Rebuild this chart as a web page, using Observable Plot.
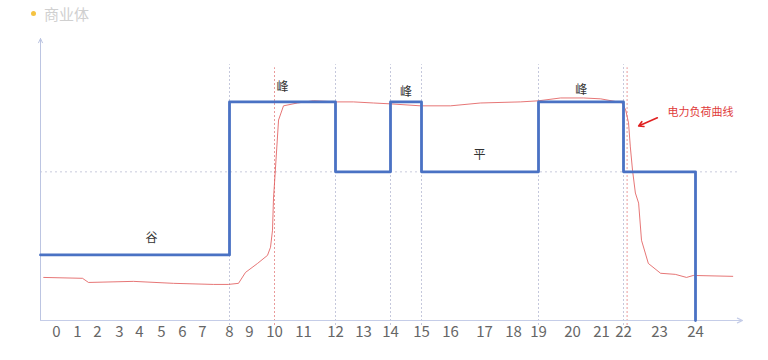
<!DOCTYPE html>
<html>
<head>
<meta charset="utf-8">
<script src="https://cdn.jsdelivr.net/npm/d3@7"></script>
<script src="https://cdn.jsdelivr.net/npm/@observablehq/plot@0.6"></script>
<style>
  body { margin: 0; background: #fff; font-family: "Noto Sans CJK SC", "Noto Sans", sans-serif; }
  #wrap { position: relative; width: 768px; height: 360px; }
  #legend { position: absolute; left: 31px; top: 3px; font-size: 15px; color: #d0d0d0; display: flex; align-items: center; }
  #legend .dot { width: 5px; height: 5px; border-radius: 50%; background: #f5c342; margin-right: 8px; }
</style>
</head>
<body>
<div id="wrap"><div id="legend"><span class="dot"></span><span>商业体</span></div><div id="chart"></div></div>
<script>
// hour ticks and their (irregular) axis positions
const hourTicks = d3.range(0, 25);
const scaleHours = [-0.75, 0, 1, 2, 3, 4, 5, 6, 7, 8, 9, 10, 11, 12, 13, 14, 15, 16, 17, 18, 19, 20, 21, 22, 23, 24, 25.3];
const scalePixels = [40, 56, 77, 97, 119, 139, 161, 182, 202, 229, 249, 274, 303, 335, 363, 390, 421, 450, 484, 513, 538, 572, 601, 623, 659, 695, 742];

// time-of-use price periods (step line)
const stepHours  = [-0.75, 8, 12, 14, 15, 19, 22, 24];
const stepLevels = [30, 100, 68, 100, 68, 100, 68, 0];

// electric load curve (red)
const loadHours = [-0.6, 1.25, 1.55, 3.7, 5.57, 7.41, 7.96, 8.45, 8.8, 9.32, 9.72, 9.84, 9.92, 9.96, 10.0, 10.14, 10.31, 10.79, 11.31, 12.07, 12.64, 13.37, 14.0, 14.97, 16.0, 16.88, 18.28, 19.0, 19.65, 20.38, 20.97, 21.73, 21.95, 22.06, 22.14, 22.19, 22.25, 22.33, 22.42, 22.5, 22.69, 23.03, 23.44, 23.75, 23.94, 25.03];
const loadValues = [19.7, 19.3, 17.4, 17.9, 17.0, 16.5, 16.5, 17.0, 22.0, 26.1, 29.8, 33.5, 41.3, 56.0, 62.8, 91.7, 98.2, 99.5, 100.5, 100, 100, 99.5, 99.1, 98.2, 98.2, 99.5, 100, 100.5, 101.8, 101.8, 101.4, 100, 99.5, 96.3, 90.4, 79.4, 68.8, 58.3, 53.7, 36.7, 26.1, 21.6, 21.1, 19.7, 20.6, 20.2];

// period boundaries and markers
const grayGridHours = [8, 12, 14, 15, 19, 22];
const redGridHours = [10, 22.1];
const flatLevel = [68];

// period labels
const periodLabels = ["峰", "峰", "峰", "平", "谷"];
const periodHours  = [10.28, 14.5, 20.3, 16.85, 4.55];
const periodValues = [106.9, 104.6, 105.5, 75.7, 37.6];

// annotation
const annotText = ["电力负荷曲线"];
const annotHour = [23.22];
const annotValue = [95];
const annotArrow = [{x1: 22.94, y1: 92.7, x2: 22.42, y2: 89}];

const steps = stepHours.map((h, i) => ({h, v: stepLevels[i]}));
const load = loadHours.map((h, i) => ({h, v: loadValues[i]}));
const labels = periodLabels.map((t, i) => ({t, h: periodHours[i], v: periodValues[i]}));

const xMin = scaleHours[0], xMax = scaleHours[scaleHours.length - 1];

const chart = Plot.plot({
  width: 768,
  height: 360,
  marginTop: 0, marginRight: 0, marginBottom: 0, marginLeft: 0,
  style: {fontFamily: "'Noto Sans CJK SC', 'Noto Sans', sans-serif", background: "transparent"},
  x: {type: "linear", domain: scaleHours, range: scalePixels, axis: null},
  y: {type: "linear", domain: [0, 129], range: [320, 38], axis: null},
  marks: [
    // gridlines
    Plot.ruleY(flatLevel, {x1: xMin, x2: xMax - 0.1, stroke: "#c8cadc", strokeDasharray: "2,3", strokeWidth: 1}),
    Plot.ruleX(grayGridHours, {y1: -2.3, y2: 117, stroke: "#c5c8dc", strokeDasharray: "2,2", strokeWidth: 1}),
    Plot.ruleX(redGridHours, {y1: -2.3, y2: 115.6, stroke: "#e99a9a", strokeDasharray: "2,2", strokeWidth: 1}),
    // axes with arrows
    Plot.arrow([{x1: xMin, y1: 0, x2: xMin, y2: 129}], {x1: "x1", y1: "y1", x2: "x2", y2: "y2", stroke: "#bcc5e2", strokeWidth: 1, headLength: 7, headAngle: 50}),
    Plot.arrow([{x1: xMin, y1: 0, x2: xMax, y2: 0}], {x1: "x1", y1: "y1", x2: "x2", y2: "y2", stroke: "#c5cde8", strokeWidth: 1.2, headLength: 7, headAngle: 50}),
    Plot.axisX({ticks: hourTicks, tickSize: 0, tickPadding: 6, fontSize: 15, fill: "#666", tickFormat: d => String(d), anchor: "bottom", y: 0}),
    // load curve
    Plot.line(load, {x: "h", y: "v", stroke: "#e05555", strokeWidth: 0.9, strokeOpacity: 0.9}),
    // TOU step line
    Plot.line(steps, {x: "h", y: "v", curve: "step-after", stroke: "#4a72c4", strokeWidth: 2.8}),
    // labels
    Plot.text(labels, {x: "h", y: "v", text: "t", fontSize: 12, fill: "#333"}),
    Plot.text(annotText, {x: annotHour, y: annotValue, text: d => d, fontSize: 11, fill: "#e03a3a", textAnchor: "start"}),
    Plot.arrow(annotArrow, {x1: "x1", y1: "y1", x2: "x2", y2: "y2", stroke: "#e02020", strokeWidth: 1.6, headLength: 5})
  ]
});
document.getElementById("chart").appendChild(chart);
</script>
</body>
</html>
